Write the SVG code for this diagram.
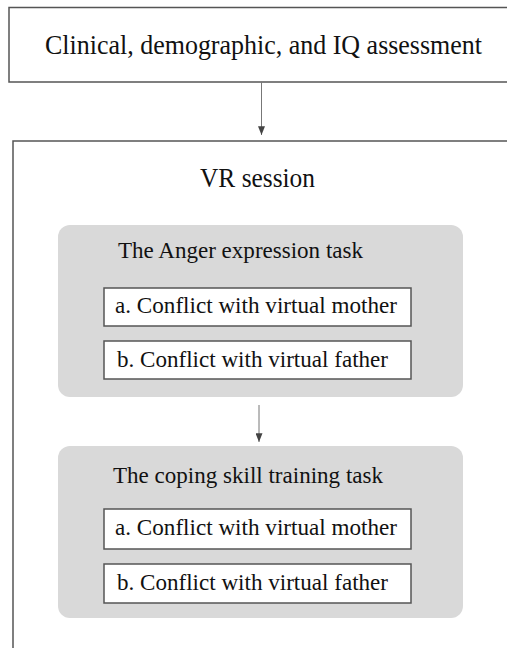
<svg xmlns="http://www.w3.org/2000/svg" width="507" height="648" viewBox="0 0 507 648">
<defs>
<marker id="ah" viewBox="0 0 10 8" refX="10" refY="4" markerWidth="9" markerHeight="7" markerUnits="userSpaceOnUse" orient="auto">
<path d="M0,0 L10,4 L0,8 Z" fill="#444"/>
</marker>
</defs>
<style>
text{font-family:"Liberation Serif","Times New Roman",serif;fill:#111;}
.big{font-size:27px;}
.mid{font-size:23px;}
.frame{fill:#fff;stroke:#555;stroke-width:1.5;}
.task{fill:#d9d9d9;}
.item{fill:#fff;stroke:#555;stroke-width:1.5;}
.conn{stroke:#777;stroke-width:1;fill:none;}
</style>
<g id="assessment">
<rect class="frame" x="9" y="7.5" width="510" height="74.5"/>
<text class="big" x="45" y="54" textLength="437" lengthAdjust="spacingAndGlyphs">Clinical, demographic, and IQ assessment</text>
</g>
<g id="vr-session">
<path class="frame" d="M520,141 L13,141 L13,660"/>
<text class="big" x="200" y="187" textLength="115" lengthAdjust="spacingAndGlyphs">VR session</text>
</g>
<g id="anger-task">
<rect class="task" x="58" y="225" width="405" height="172" rx="12"/>
<text class="mid" x="118" y="258" textLength="245" lengthAdjust="spacingAndGlyphs">The Anger expression task</text>
</g>
<g id="anger-a">
<rect class="item" x="104" y="288" width="307" height="38"/>
<text class="mid" x="115" y="313" textLength="282" lengthAdjust="spacingAndGlyphs">a. Conflict with virtual mother</text>
</g>
<g id="anger-b">
<rect class="item" x="104" y="341" width="307" height="38"/>
<text class="mid" x="117" y="367" textLength="271" lengthAdjust="spacingAndGlyphs">b. Conflict with virtual father</text>
</g>
<g id="coping-task">
<rect class="task" x="58" y="446" width="405" height="172" rx="12"/>
<text class="mid" x="113" y="483" textLength="270" lengthAdjust="spacingAndGlyphs">The coping skill training task</text>
</g>
<g id="coping-a">
<rect class="item" x="104" y="509" width="307" height="40"/>
<text class="mid" x="115" y="535" textLength="282" lengthAdjust="spacingAndGlyphs">a. Conflict with virtual mother</text>
</g>
<g id="coping-b">
<rect class="item" x="104" y="564" width="307" height="39"/>
<text class="mid" x="117" y="590" textLength="271" lengthAdjust="spacingAndGlyphs">b. Conflict with virtual father</text>
</g>
<g id="connectors">
<line class="conn" x1="261.5" y1="82" x2="261.5" y2="135" marker-end="url(#ah)"/>
<line class="conn" x1="259" y1="405" x2="259" y2="442" marker-end="url(#ah)"/>
</g>
</svg>
